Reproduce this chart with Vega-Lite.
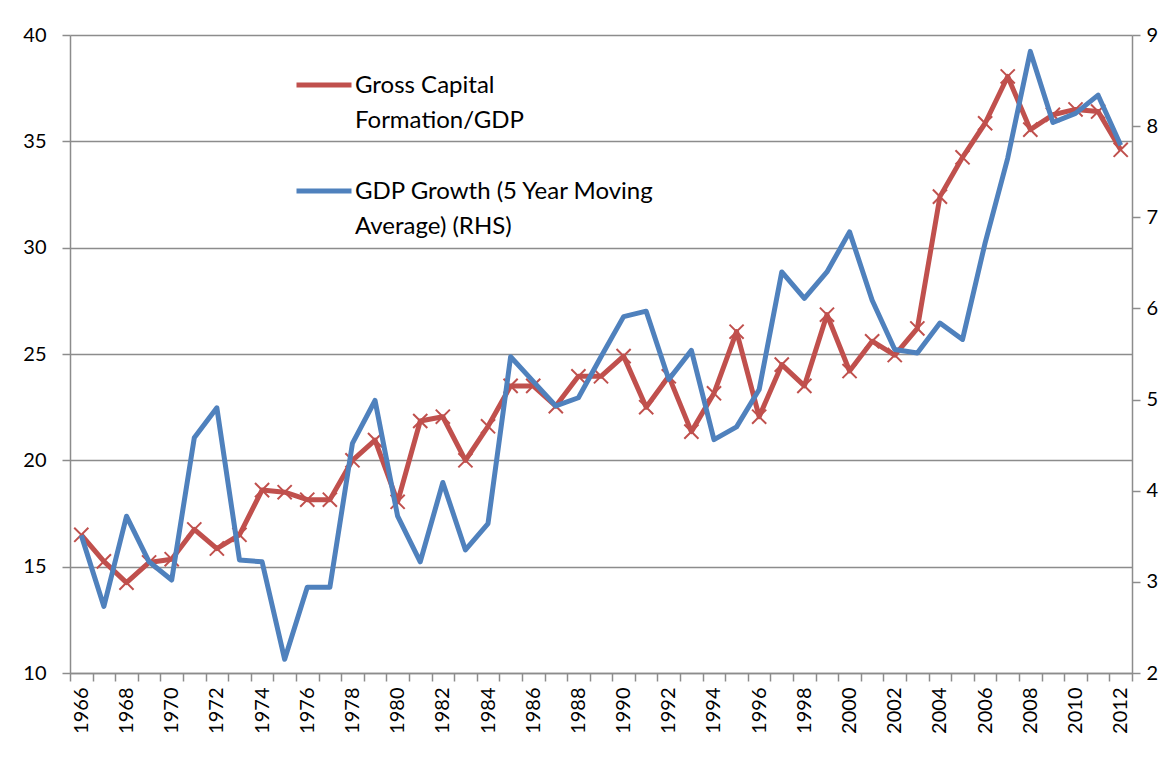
{
  "$schema": "https://vega.github.io/schema/vega-lite/v6.json",
  "autosize": "none",
  "width": 1062,
  "height": 638,
  "padding": {"left": 70, "top": 35, "right": 41, "bottom": 90},
  "background": "white",
  "config": {
    "view": {"stroke": null},
    "font": "Lato",
    "style": {"guide-label": {"lineHeight": 35}},
    "axis": {"labelFont": "Lato", "labelFontSize": 20, "labelColor": "#000000", "domainColor": "#8c8c8c", "domainWidth": 1.5, "tickColor": "#8c8c8c", "tickWidth": 1.5, "gridColor": "#8c8c8c", "gridWidth": 1.5, "title": null}
  },
  "data": {"values": [
    {"year": 1966, "gcf": 16.5, "gdp": 3.51},
    {"year": 1967, "gcf": 15.25, "gdp": 2.73},
    {"year": 1968, "gcf": 14.25, "gdp": 3.72},
    {"year": 1969, "gcf": 15.2, "gdp": 3.22},
    {"year": 1970, "gcf": 15.35, "gdp": 3.02},
    {"year": 1971, "gcf": 16.75, "gdp": 4.58},
    {"year": 1972, "gcf": 15.85, "gdp": 4.91},
    {"year": 1973, "gcf": 16.5, "gdp": 3.24},
    {"year": 1974, "gcf": 18.6, "gdp": 3.22},
    {"year": 1975, "gcf": 18.5, "gdp": 2.15},
    {"year": 1976, "gcf": 18.15, "gdp": 2.94},
    {"year": 1977, "gcf": 18.15, "gdp": 2.94},
    {"year": 1978, "gcf": 20.0, "gdp": 4.52},
    {"year": 1979, "gcf": 20.95, "gdp": 4.99},
    {"year": 1980, "gcf": 18.05, "gdp": 3.72},
    {"year": 1981, "gcf": 21.85, "gdp": 3.22},
    {"year": 1982, "gcf": 22.05, "gdp": 4.09},
    {"year": 1983, "gcf": 20.0, "gdp": 3.35},
    {"year": 1984, "gcf": 21.6, "gdp": 3.64},
    {"year": 1985, "gcf": 23.5, "gdp": 5.47},
    {"year": 1986, "gcf": 23.5, "gdp": 5.2},
    {"year": 1987, "gcf": 22.55, "gdp": 4.93},
    {"year": 1988, "gcf": 23.95, "gdp": 5.02},
    {"year": 1989, "gcf": 23.95, "gdp": 5.47},
    {"year": 1990, "gcf": 24.9, "gdp": 5.91},
    {"year": 1991, "gcf": 22.5, "gdp": 5.97},
    {"year": 1992, "gcf": 23.95, "gdp": 5.22},
    {"year": 1993, "gcf": 21.35, "gdp": 5.54},
    {"year": 1994, "gcf": 23.15, "gdp": 4.56},
    {"year": 1995, "gcf": 26.05, "gdp": 4.7},
    {"year": 1996, "gcf": 22.05, "gdp": 5.11},
    {"year": 1997, "gcf": 24.5, "gdp": 6.4},
    {"year": 1998, "gcf": 23.5, "gdp": 6.11},
    {"year": 1999, "gcf": 26.85, "gdp": 6.4},
    {"year": 2000, "gcf": 24.2, "gdp": 6.84},
    {"year": 2001, "gcf": 25.6, "gdp": 6.09},
    {"year": 2002, "gcf": 24.95, "gdp": 5.55},
    {"year": 2003, "gcf": 26.2, "gdp": 5.51},
    {"year": 2004, "gcf": 32.4, "gdp": 5.84},
    {"year": 2005, "gcf": 34.25, "gdp": 5.66},
    {"year": 2006, "gcf": 35.85, "gdp": 6.72},
    {"year": 2007, "gcf": 38.05, "gdp": 7.65},
    {"year": 2008, "gcf": 35.55, "gdp": 8.82},
    {"year": 2009, "gcf": 36.25, "gdp": 8.04},
    {"year": 2010, "gcf": 36.5, "gdp": 8.14},
    {"year": 2011, "gcf": 36.4, "gdp": 8.34},
    {"year": 2012, "gcf": 34.6, "gdp": 7.79}
  ]},
  "encoding": {
    "x": {
      "field": "year", "type": "ordinal",
      "scale": {"type": "band", "paddingInner": 0, "paddingOuter": 0},
      "axis": {"labelAngle": -90, "labelAlign": "right", "labelBaseline": "middle", "labelExpr": "datum.value % 2 == 0 ? datum.label : ''", "labelOverlap": false, "tickBand": "extent", "tickSize": 8, "labelPadding": 6}
    }
  },
  "layer": [
    {
      "layer": [
        {
          "mark": {"type": "line", "strokeWidth": 5, "strokeJoin": "round"},
          "encoding": {
            "y": {"field": "gcf", "type": "quantitative", "scale": {"domain": [10, 40], "nice": false, "zero": false}, "axis": {"orient": "left", "values": [10, 15, 20, 25, 30, 35, 40], "grid": true, "tickSize": 8, "labelPadding": 16}},
            "color": {"datum": "Gross Capital Formation/GDP", "type": "nominal"}
          }
        },
        {
          "mark": {"type": "point", "shape": "M-1,-1L1,1M-1,1L1,-1", "filled": false, "stroke": "#C0504D", "strokeWidth": 2, "size": 200, "opacity": 1},
          "encoding": {
            "y": {"field": "gcf", "type": "quantitative"}
          }
        }
      ]
    },
    {
      "mark": {"type": "line", "strokeWidth": 5, "strokeJoin": "round"},
      "encoding": {
        "y": {"field": "gdp", "type": "quantitative", "scale": {"domain": [2, 9], "nice": false, "zero": false}, "axis": {"orient": "right", "values": [2, 3, 4, 5, 6, 7, 8, 9], "grid": false, "tickSize": 8, "labelPadding": 6}},
        "color": {
          "datum": "GDP Growth (5 Year Moving Average) (RHS)", "type": "nominal",
          "scale": {"domain": ["Gross Capital Formation/GDP", "GDP Growth (5 Year Moving Average) (RHS)"], "range": ["#C0504D", "#4F81BD"]},
          "legend": {
            "title": null, "orient": "none", "legendX": 224, "legendY": 20, "padding": 0,
            "symbolType": "stroke", "symbolSize": 3025, "symbolStrokeWidth": 5,
            "labelFont": "Lato", "labelFontSize": 24, "labelColor": "#000000", "labelLimit": 0, "labelBaseline": "alphabetic", "labelOffset": 1,
            "rowPadding": 28,
            "labelExpr": "datum.label == 'Gross Capital Formation/GDP' ? ['Gross Capital', 'Formation/GDP'] : ['GDP Growth (5 Year Moving', 'Average) (RHS)']",
            "encode": {"labels": {"update": {"dy": {"value": 8}, "lineHeight": {"value": 35}}}}
          }
        }
      }
    }
  ],
  "resolve": {"scale": {"y": "independent"}}
}
